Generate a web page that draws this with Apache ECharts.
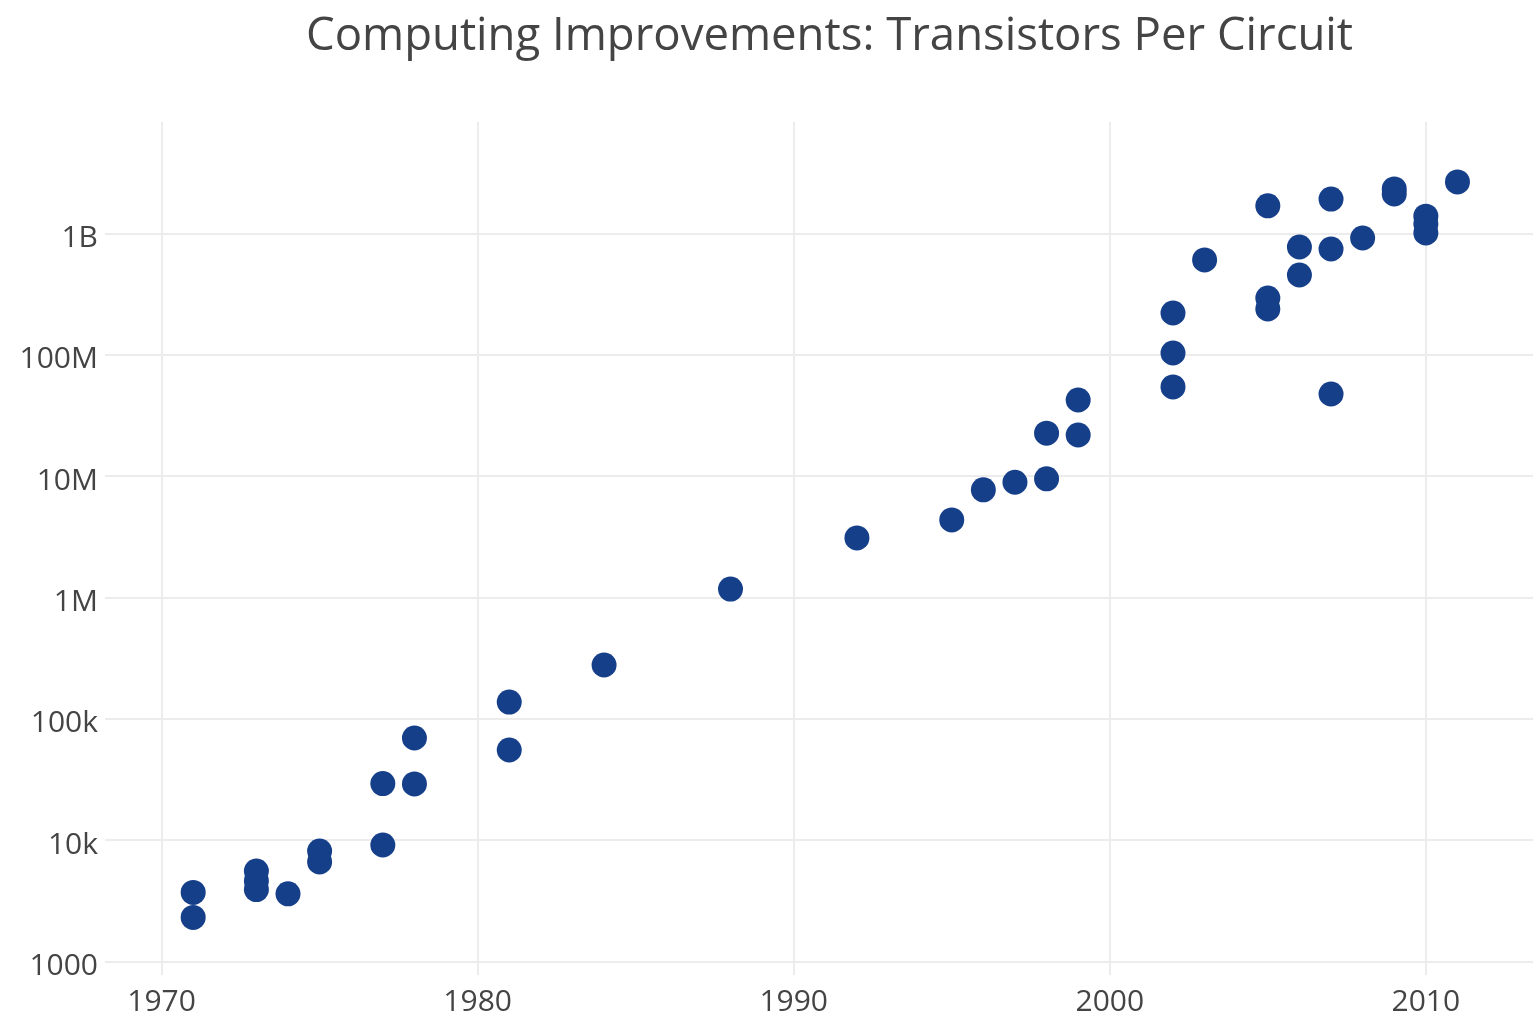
<!DOCTYPE html>
<html>
<head>
<meta charset="utf-8">
<script src="https://cdn.jsdelivr.net/npm/echarts@6/dist/echarts.min.js"></script>
<style>
  html, body { margin: 0; padding: 0; background: #fff; }
  #chart { width: 1533px; height: 1017px; }
</style>
</head>
<body>
<div id="chart"></div>
<script>
const titleText = 'Computing Improvements: Transistors Per Circuit';
const years = [1971, 1971, 1973, 1973, 1973, 1974, 1975, 1975, 1977, 1977, 1978, 1978, 1981, 1981, 1984, 1988, 1992, 1995, 1996, 1997, 1998, 1998, 1999, 1999, 2002, 2002, 2002, 2003, 2005, 2005, 2005, 2006, 2006, 2007, 2007, 2007, 2008, 2009, 2009, 2010, 2010, 2010, 2011];
const transistors = [3700, 2300, 5550, 4600, 3900, 3600, 8100, 6600, 9100, 29200, 69300, 29000, 137000, 55200, 277000, 1170000, 3090000, 4350000, 7700000, 8900000, 9500000, 22600000, 42400000, 21800000, 221000000, 103500000, 54300000, 605000000, 1690000000, 294000000, 239000000, 774000000, 455000000, 1920000000, 745000000, 47500000, 918000000, 2330000000, 2120000000, 1390000000, 1200000000, 1010000000, 2660000000];
const yTickLabels = ['1000', '10k', '100k', '1M', '10M', '100M', '1B'];
const xRange = [1968.21, 2013.39];
const yRange = [771, 8.3e9];

const chart = echarts.init(document.getElementById('chart'), null, { renderer: 'canvas' });
const font = "'Open Sans', 'Noto Sans', sans-serif";
chart.setOption({
  animation: false,
  backgroundColor: '#fff',
  title: {
    text: titleText,
    left: 301,
    top: 9,
    textStyle: { fontFamily: font, fontSize: 45.5, fontWeight: 'normal', color: '#444' }
  },
  grid: { left: 105, right: 0, top: 122, bottom: 42, containLabel: false },
  xAxis: {
    type: 'value',
    min: xRange[0],
    max: xRange[1],
    axisLine: { show: false },
    axisTick: { show: false },
    splitLine: { show: true, showMinLine: false, showMaxLine: false, lineStyle: { color: '#ececec', width: 2 } },
    axisLabel: {
      showMinLabel: false, showMaxLabel: false,
      margin: 12, fontFamily: font, fontSize: 30, color: '#444',
      formatter: v => (Math.abs(v - Math.round(v)) < 1e-6 && Math.round(v) % 10 === 0) ? String(Math.round(v)) : ''
    }
  },
  yAxis: {
    type: 'log',
    logBase: 10,
    min: yRange[0],
    max: yRange[1],
    axisLine: { show: false },
    axisTick: { show: false },
    splitLine: { show: true, showMinLine: false, showMaxLine: false, lineStyle: { color: '#ececec', width: 2 } },
    axisLabel: {
      showMinLabel: false, showMaxLabel: false,
      margin: 7, fontFamily: font, fontSize: 30, color: '#444',
      rich: {
        t: { fontFamily: font, fontSize: 30, color: '#444', padding: [10, 0, 0, 0] }
      },
      formatter: v => {
        const e = Math.log10(v);
        const r = Math.round(e);
        if (Math.abs(e - r) > 1e-6) return '';
        const idx = r - 3;
        return (idx >= 0 && idx < yTickLabels.length) ? '{t|' + yTickLabels[idx] + '}' : '';
      }
    }
  },
  series: [{
    type: 'scatter',
    symbol: 'circle',
    symbolSize: 25,
    itemStyle: { color: '#163f8a', opacity: 1 },
    data: years.map((y, i) => [y, transistors[i]])
  }]
});
</script>
</body>
</html>
